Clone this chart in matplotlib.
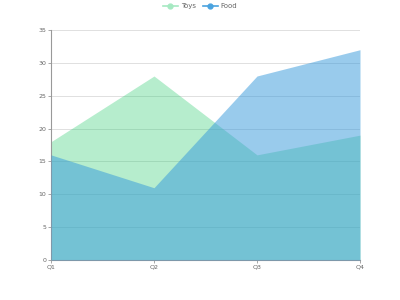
import matplotlib
matplotlib.use('Agg')
import matplotlib.pyplot as plt
from matplotlib.lines import Line2D

quarters = ['Q1', 'Q2', 'Q3', 'Q4']
toys = [18, 28, 16, 19]
food = [16, 11, 28, 32]
y_ticks = [0, 5, 10, 15, 20, 25, 30, 35]

toys_color = '#2ecc71'
food_color = '#3498db'

fig = plt.figure(figsize=(4, 3), dpi=100)
ax = fig.add_axes([0.1275, 0.1333, 0.7725, 0.7667])

x = list(range(len(quarters)))
ax.fill_between(x, 0, toys, color=toys_color, alpha=0.35, linewidth=0, zorder=2)
ax.fill_between(x, 0, food, color=food_color, alpha=0.5, linewidth=0, zorder=3)

ax.set_xlim(0, 3)
ax.set_ylim(0, 35)
ax.set_xticks(x)
ax.set_xticklabels(quarters)
ax.set_yticks(y_ticks)
ax.yaxis.grid(True, color='#e0e0e0', linewidth=0.7, zorder=1)
ax.set_axisbelow(True)

for s in ['top', 'right']:
    ax.spines[s].set_visible(False)
for s in ['left', 'bottom']:
    ax.spines[s].set_color('#999999')
    ax.spines[s].set_linewidth(0.8)
ax.tick_params(axis='both', labelsize=4.5, colors='#999999', labelcolor='#666666',
               length=2, width=0.6, pad=1.5)

handles = [
    Line2D([0], [0], color='#a6e9c2', marker='o', markersize=3.5, linewidth=1.2),
    Line2D([0], [0], color='#4aa3df', marker='o', markersize=3.5, linewidth=1.2),
]
fig.legend(handles, ['Toys', 'Food'], loc='upper center', bbox_to_anchor=(0.5, 1.01),
           ncol=2, frameon=False, fontsize=5, labelcolor='#666666',
           handlelength=2.2, columnspacing=1.0, handletextpad=0.4)

fig.savefig('out.png', dpi=100)
